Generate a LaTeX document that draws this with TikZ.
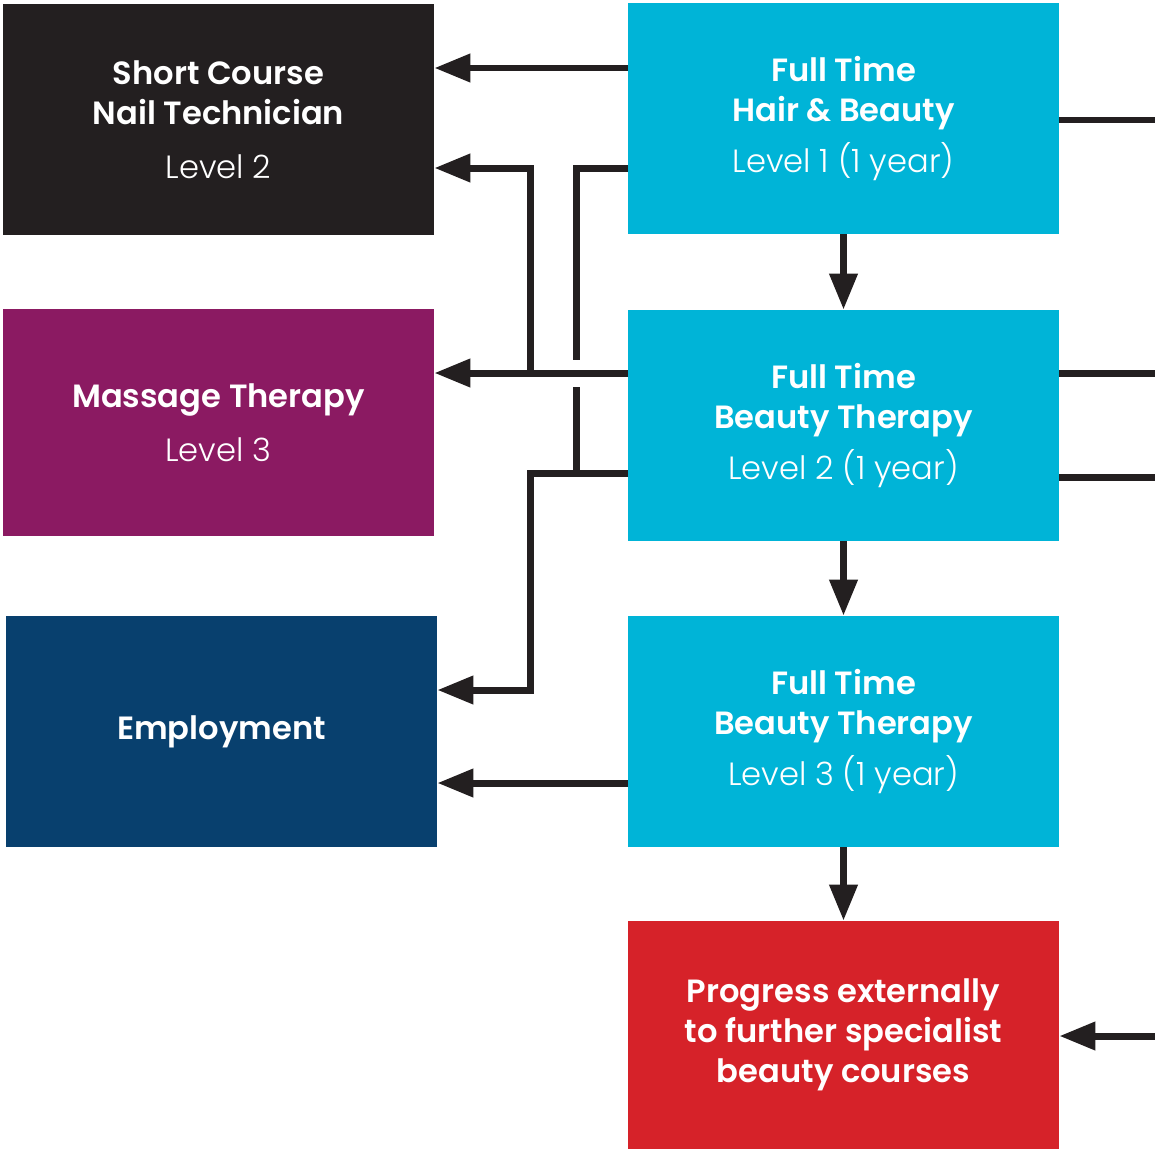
\documentclass[tikz,border=0pt]{standalone}
\usepackage{fontspec}
\setmainfont{Poppins}[UprightFont=Poppins Light,BoldFont=Poppins SemiBold]
\usetikzlibrary{arrows.meta}
\definecolor{ink}{HTML}{231F20}
\definecolor{teal}{HTML}{00B4D7}
\definecolor{plum}{HTML}{8B1A62}
\definecolor{navy}{HTML}{08406E}
\definecolor{brick}{HTML}{D62229}

\begin{document}
\begin{tikzpicture}[x=0.02cm,y=-0.02cm,
  box/.style={rectangle,inner sep=0pt,minimum width=8.62cm,minimum height=4.62cm,align=center,text=white,font=\fontsize{18.3}{22.8}\selectfont},
  link/.style={draw=ink,line width=0.14cm},
  arr/.style={link,-{Triangle[length=0.72cm,width=0.54cm]}}]

\useasboundingbox (0,0) rectangle (1155,1149);

%left column
\node[box,fill=ink] (SC) at (218.5,119.5) {\textbf{Short Course}\\\textbf{Nail Technician}\\[0.28cm]Level 2};
\node[box,fill=plum,minimum height=4.54cm] (MT) at (218.5,422.5) {\textbf{Massage Therapy}\\[0.28cm]Level 3};
\node[box,fill=navy] (EM) at (221.5,731.5) {\textbf{Employment}};

%right column
\node[box,fill=teal] (H1) at (843.5,118.5) {\textbf{Full Time}\\\textbf{Hair \& Beauty}\\[0.22cm]Level 1 (1 year)};
\node[box,fill=teal] (B2) at (843.5,425.5) {\textbf{Full Time}\\\textbf{Beauty Therapy}\\[0.22cm]Level 2 (1 year)};
\node[box,fill=teal] (B3) at (843.5,731.5) {\textbf{Full Time}\\\textbf{Beauty Therapy}\\[0.22cm]Level 3 (1 year)};
\node[box,fill=brick,minimum height=4.56cm] (PR) at (843.5,1035) {\textbf{Progress externally}\\\textbf{to further specialist}\\\textbf{beauty courses}};

%junctions
\coordinate (g1) at (576,360);
\coordinate (g2) at (576,387);
\coordinate (j1) at (530,373);
\coordinate (j2) at (530,473);
\coordinate (r1) at (1155,120);
\coordinate (r2) at (1155,373);
\coordinate (r3) at (1155,477);
\coordinate (r4) at (1155,1036);

%down the middle
\draw [arr] (H1) -- (B2);
\draw [arr] (B2) -- (B3);
\draw [arr] (B3) -- (PR);

%to the left
\draw [arr] (H1.west |- 0,68) -- (SC.east |- 0,68);
\draw [link] (H1.west |- 0,168) -| (g1);
\draw [link] (g2) |- (B2.west |- 0,473);
\draw [arr] (B2.west |- 0,373) -- (MT.east |- 0,373);
\draw [arr] (j1) |- (SC.east |- 0,168);
\draw [arr] (B2.west |- 0,473) -- (j2) |- (EM.east |- 0,690);
\draw [arr] (B3.west |- 0,783) -- (EM.east |- 0,783);

%to the right
\draw [link] (H1.east |- r1) -- (r1);
\draw [link] (B2.east |- r2) -- (r2);
\draw [link] (B2.east |- r3) -- (r3);
\draw [arr] (r4) -- (PR.east |- r4);
\end{tikzpicture}
\end{document}
